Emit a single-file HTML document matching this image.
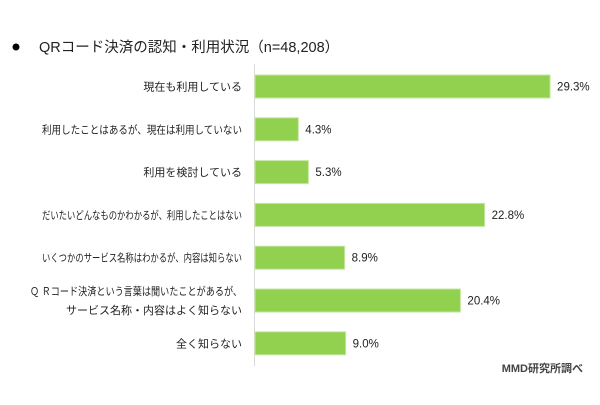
<!DOCTYPE html>
<html><head><meta charset="utf-8"><style>
body{margin:0;background:#fff;width:600px;height:400px;overflow:hidden;font-family:"Liberation Sans","Noto Sans CJK JP",sans-serif;}
</style></head><body>
<svg width="600" height="400" xmlns="http://www.w3.org/2000/svg">
<circle cx="16" cy="47" r="3.5" fill="#000"/>
<text x="39" y="52" font-size="14.5" fill="#222" font-family="Liberation Sans, Noto Sans CJK JP, sans-serif">QRコード決済の認知・利用状況（n=48,208）</text>
<line x1="254.5" y1="64" x2="254.5" y2="366" stroke="#d9d9d9" stroke-width="1"/>
<g id="bars"></g>
<text x="583" y="372" font-size="11" font-weight="bold" fill="#444" text-anchor="end" font-family="Liberation Sans, Noto Sans CJK JP, sans-serif">MMD研究所調べ</text>
</svg>
<script>
const categories=[["現在も利用している"],["利用したことはあるが、現在は利用していない"],["利用を検討している"],["だいたいどんなものかわかるが、利用したことはない"],["いくつかのサービス名称はわかるが、内容は知らない"],["Ｑ Ｒコード決済という言葉は聞いたことがあるが、","サービス名称・内容はよく知らない"],["全く知らない"]];
const values=[29.3,4.3,5.3,22.8,8.9,20.4,9.0];
const valueLabels=["29.3%","4.3%","5.3%","22.8%","8.9%","20.4%","9.0%"];
const x0=255, pxPer=10.07, yTop=86.5, step=42.8, bh=23;
const xs=v=>x0+v*pxPer, ys=i=>yTop+i*step;
const g=document.getElementById('bars');
const ns='http://www.w3.org/2000/svg';
values.forEach((v,i)=>{
  const cy=ys(i);
  const r=document.createElementNS(ns,'rect');
  r.setAttribute('x',x0);r.setAttribute('y',cy-bh/2);r.setAttribute('width',xs(v)-x0);r.setAttribute('height',bh);
  r.setAttribute('fill','#92d050');r.setAttribute('stroke','#c5e6a0');r.setAttribute('stroke-width','1');
  
  
  g.appendChild(r);
  const t=document.createElementNS(ns,'text');
  t.setAttribute('x',xs(v)+7);t.setAttribute('y',cy+4);t.setAttribute('font-size','11.5');t.setAttribute('fill','#222');
  t.textContent=valueLabels[i];
  
  
  g.appendChild(t);
  const lines=categories[i];
  lines.forEach((s,j)=>{
    const c=document.createElementNS(ns,'text');
    c.setAttribute('x',242);c.setAttribute('text-anchor','end');c.setAttribute('font-size','11');c.setAttribute('fill','#222');
    c.setAttribute('y',cy+4+(j-(lines.length-1)/2)*19);
    c.textContent=s;
    
    
    g.appendChild(c);
    const w=c.getComputedTextLength();
    const maxW=j===0&&lines.length>1?212:200;
    if(w>maxW){c.setAttribute('textLength',maxW);c.setAttribute('lengthAdjust','spacingAndGlyphs');}
  });
});
</script>
</body></html>
